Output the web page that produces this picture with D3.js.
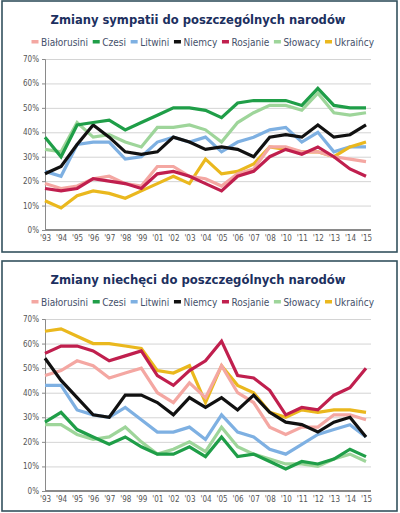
<!DOCTYPE html>
<html>
<head>
<meta charset="utf-8">
<script src="https://cdn.jsdelivr.net/npm/d3@7/dist/d3.min.js"></script>
<style>
  html, body { margin: 0; padding: 0; background: #fff; }
  svg { display: block; }
</style>
</head>
<body>
<script>
// ---- Data ----
const years = ["93","94","95","96","97","98","99","01","02","03","04","05","06","07","08","10","11","12","13","14","15"];
const seriesNames = ["Białorusini","Czesi","Litwini","Niemcy","Rosjanie","Słowacy","Ukraińcy"];
const seriesColors = ["#f4a7a2","#1f9e48","#7eb0e2","#111111","#c01f4e","#9ed59a","#eab81e"];
const yTicks = [0,10,20,30,40,50,60,70];

// Sympathy (top chart)
const sympBialorusini = [19,17,18,21,22,19,18,26,26,22,21,18,23,25,34,34,32,32,30,29,28];
const sympCzesi       = [38,30,43,44,45,41,44,47,50,50,49,46,52,53,53,53,51,58,51,50,50];
const sympLitwini     = [24,22,35,36,36,29,30,36,38,36,38,32,36,38,41,42,36,40,32,34,34];
const sympNiemcy      = [23,26,35,43,38,32,31,32,38,36,33,34,33,30,38,39,38,43,38,39,43];
const sympRosjanie    = [17,16,17,21,20,19,17,23,24,22,19,16,22,24,30,33,31,34,30,25,22];
const sympSlowacy     = [33,32,44,38,39,36,34,42,42,43,41,36,44,48,51,51,49,56,48,47,48];
const sympUkraincy    = [12,9,14,16,15,13,16,19,22,19,29,23,24,27,34,33,32,32,30,34,36];

// Antipathy (bottom chart)
const antBialorusini = [47,49,53,51,46,48,50,40,36,44,38,51,40,36,26,23,26,26,31,31,29];
const antCzesi       = [28,32,25,22,19,22,18,15,15,18,14,22,14,15,12,9,12,11,13,17,14];
const antLitwini     = [43,43,33,31,30,34,29,24,24,26,21,31,24,22,17,15,19,23,25,27,22];
const antNiemcy      = [54,45,38,31,30,39,39,36,31,38,34,38,33,39,32,28,27,24,28,30,22];
const antRosjanie    = [56,59,59,57,53,55,57,47,43,49,53,61,47,46,41,31,34,33,39,42,50];
const antSlowacy     = [27,27,23,21,22,26,20,15,17,20,16,26,18,15,13,11,11,10,13,15,12];
const antUkraincy    = [65,66,63,60,60,59,58,49,48,51,36,51,43,40,32,30,33,32,33,33,32];

const charts = [
  { title: "Zmiany sympatii do poszczególnych narodów",
    values: [sympBialorusini,sympCzesi,sympLitwini,sympNiemcy,sympRosjanie,sympSlowacy,sympUkraincy],
    frame: [2, 1, 395, 251], titleY: 24, legendY: 42, plotTop: 59, plotBottom: 230 },
  { title: "Zmiany niechęci do poszczególnych narodów",
    values: [antBialorusini,antCzesi,antLitwini,antNiemcy,antRosjanie,antSlowacy,antUkraincy],
    frame: [2, 261, 395, 250], titleY: 284, legendY: 302, plotTop: 319, plotBottom: 491 }
];

// ---- Drawing ----
const W = 400, H = 513;
const svg = d3.select("body").append("svg").attr("width", W).attr("height", H);
const plotLeft = 45, plotRight = 366, gridRight = 371;
const drawOrder = [5, 2, 6, 0, 4, 3, 1];
const font = "'DejaVu Sans Condensed','DejaVu Sans',sans-serif";

charts.forEach(c => {
  const g = svg.append("g");
  g.append("rect")
    .attr("x", c.frame[0]).attr("y", c.frame[1])
    .attr("width", c.frame[2]).attr("height", c.frame[3])
    .attr("fill", "#fff").attr("stroke", "#34525e").attr("stroke-width", 1.6);

  g.append("text")
    .attr("x", 198).attr("y", c.titleY)
    .attr("text-anchor", "middle")
    .attr("font-family", "'DejaVu Sans',sans-serif")
    .attr("font-weight", "bold")
    .attr("font-size", 12.5)
    .attr("textLength", 295).attr("lengthAdjust", "spacingAndGlyphs")
    .attr("fill", "#1c3060")
    .text(c.title);

  // legend
  const leg = g.append("g").attr("font-family", font).attr("font-size", 10).attr("fill", "#44506a");
  let lx = 31.5;
  const items = [];
  seriesNames.forEach((name, i) => {
    const it = leg.append("g");
    it.append("rect").attr("x", 0).attr("y", -2).attr("width", 7).attr("height", 3.5).attr("fill", seriesColors[i]);
    const t = it.append("text").attr("x", 9.5).attr("y", 3.6).text(name);
    items.push({ it, w: 9.5 + t.node().getComputedTextLength() });
  });
  const totalW = items.reduce((s, d) => s + d.w, 0);
  const gap = (374 - 31.5 - totalW) / (items.length - 1);
  items.forEach(d => { d.it.attr("transform", `translate(${lx},${c.legendY})`); lx += d.w + gap; });

  const x = d3.scalePoint().domain(years).range([plotLeft, plotRight]);
  const y = d3.scaleLinear().domain([0, 70]).range([c.plotBottom, c.plotTop]);

  // gridlines
  g.append("g")
    .attr("transform", `translate(${plotLeft},0)`)
    .call(d3.axisLeft(y).tickValues(yTicks.filter(v => v > 0)).tickSize(-(gridRight - plotLeft)).tickFormat(""))
    .call(a => a.select(".domain").remove())
    .call(a => a.selectAll("line").attr("stroke", "#d4d4d4").attr("stroke-width", 1));

  // y axis
  g.append("g")
    .attr("transform", `translate(${plotLeft},0)`)
    .call(d3.axisLeft(y).tickValues(yTicks).tickSize(3).tickPadding(3).tickFormat(d => d + "%"))
    .call(a => a.select(".domain").attr("stroke", "#8a8a8a"))
    .call(a => a.selectAll("line").attr("stroke", "#8a8a8a"))
    .call(a => a.selectAll("text").attr("font-family", font).attr("font-size", 8).attr("fill", "#555"));

  // x axis
  g.append("g")
    .attr("transform", `translate(0,${c.plotBottom})`)
    .call(d3.axisBottom(x).tickSize(0).tickPadding(5).tickFormat(d => "'" + d))
    .call(a => a.select(".domain").attr("stroke", "#8a8a8a").attr("stroke-width", 2)
      .attr("d", `M${plotLeft},0H${gridRight}`))
    .call(a => a.selectAll("text").attr("font-family", font).attr("font-size", 8).attr("fill", "#555"));

  const line = d3.line().x((d, i) => x(years[i])).y(d => y(d));
  drawOrder.forEach(i => {
    g.append("path")
      .datum(c.values[i])
      .attr("d", line)
      .attr("fill", "none")
      .attr("stroke", seriesColors[i])
      .attr("stroke-width", 3.2)
      .attr("stroke-linejoin", "miter");
  });
});
</script>
</body>
</html>
